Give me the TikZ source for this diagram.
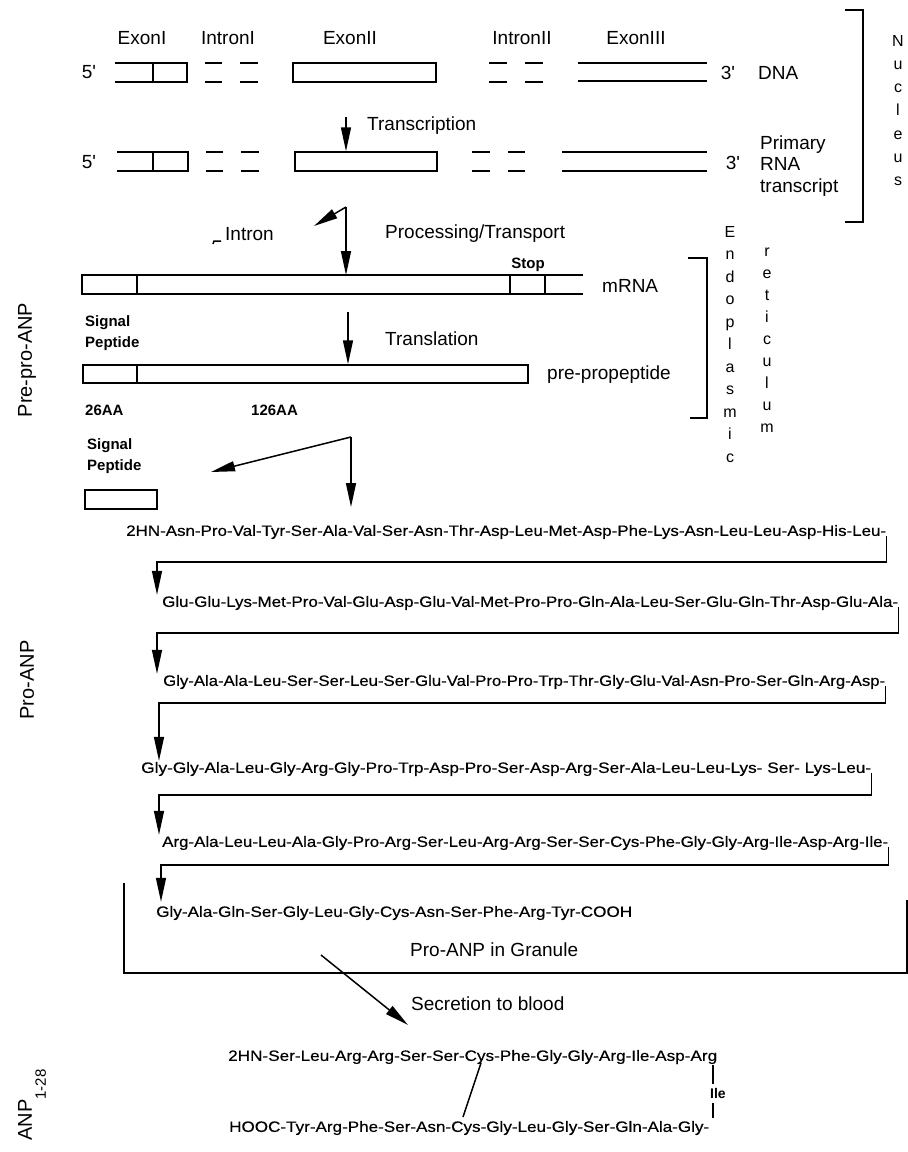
\documentclass[tikz,border=0pt]{standalone}
\usepackage{fontspec}
\setmainfont{Liberation Sans}
\newfontfamily\pepfont[FakeBold=0.4]{Liberation Sans}
\usetikzlibrary{arrows.meta,calc}
\newcommand\fitw[2]{\resizebox{#1pt}{\height}{#2}}
\newcommand\pr{\textquotesingle}
\begin{document}
\begin{tikzpicture}[x=1pt,y=-1pt,
  ln/.style={line width=1.5pt},
  arr/.style={line width=1.5pt,-{Triangle[length=24pt,width=10pt]}},
  lbl/.style={font=\fontsize{19}{21}\selectfont, inner sep=0pt},
  sml/.style={font=\bfseries\fontsize{15}{21}\selectfont, inner sep=0pt},
  pep/.style={font=\pepfont\fontsize{15}{17}\selectfont, inner sep=0pt, anchor=west},
  ltr/.style={font=\fontsize{16}{16}\selectfont, inner sep=0pt, anchor=base},
  bar/.style={draw, line width=1.5pt, inner sep=0pt}
]
\useasboundingbox (0,0) rectangle (908,1152);

% ---------------- Nucleus ----------------
\node[lbl] (lexI) at (142,38) {ExonI};
\node[lbl] (linI) at (228,38) {IntronI};
\node[lbl] (lexII) at (350,38) {ExonII};
\node[lbl] (linII) at (522,38) {IntronII};
\node[lbl] (lexIII) at (636,38) {ExonIII};

% DNA row
\node[lbl] (p5a) at (89,72) {5\pr};
\draw[ln] (115,63) -- (187,63) -- (187,82) -- (115,82);
\draw[ln] (153,63) -- (153,82);
\foreach \a/\b in {205/222,240/258,489/507,525/543}{
  \draw[ln] (\a,63) -- (\b,63); \draw[ln] (\a,82) -- (\b,82);}
\node[bar, minimum width=143pt, minimum height=19pt] (exA) at (364.5,72.5) {};
\draw[ln] (578,63) -- (707,63); \draw[ln] (578,81) -- (707,81);
\node[lbl] (p3a) at (728,73) {3\pr};
\node[lbl, anchor=west] (dna) at (758,73) {DNA};

% Primary RNA row
\node[lbl] (p5b) at (89,162) {5\pr};
\draw[ln] (117,152) -- (188,152) -- (188,171) -- (117,171);
\draw[ln] (153,152) -- (153,171);
\foreach \a/\b in {206/223,241/259,472/490,508/525}{
  \draw[ln] (\a,152) -- (\b,152); \draw[ln] (\a,171) -- (\b,171);}
\node[bar, minimum width=142pt, minimum height=19pt] (exB) at (366,161.5) {};
\draw[ln] (562,152) -- (707,152); \draw[ln] (562,171) -- (707,171);
\node[lbl] (p3b) at (733,163) {3\pr};
\node[lbl, anchor=west, align=left, font=\fontsize{19}{21.5}\selectfont] (prna) at (760,166) {Primary\\RNA\\transcript};

% Transcription
\coordinate (tA) at (346,117);
\draw[arr] (tA) -- (tA |- exB.north);
\node[lbl, anchor=west] (trs) at (367,126) {Transcription};

% Nucleus bracket
\draw[ln] (845,10) -- (863,10) -- (863,222) -- (845,222);
\foreach \ch [count=\i] in {N,u,c,l,e,u,s}
  \node[ltr] (nuc\i) at (898,{40+23.3*(\i-1)+6}) {\ch};

% ---------------- Processing ----------------
\coordinate (pA) at (346,207);
\coordinate (inTip) at (314,226);
\draw[arr] (pA) -- (inTip);
\draw[ln] (213,244) -- (214,241) -- (221,241);
\node[lbl, anchor=west] (intron) at (225,234) {Intron};
\node[lbl, anchor=west] (proc) at (385,234) {Processing/Transport};

% mRNA bar
\draw[ln] (583,275) -- (82,275) -- (82,294) -- (583,294);
\draw[ln] (137,275) -- (137,294);
\draw[ln] (510,275) -- (510,294);
\draw[ln] (545,275) -- (545,294);
\coordinate (mtop) at (346,275);
\draw[arr] (pA) -- (mtop);
\node[sml] (stop) at (528,265) {Stop};
\node[lbl, anchor=west] (mrna) at (602,286) {mRNA};

\node[sml, anchor=west, align=left] (sig1) at (85,333) {Signal\\Peptide};

% Translation
\node[bar, minimum width=445pt, minimum height=18pt] (pp) at (305.5,374) {};
\draw[ln] (137,365) -- (137,383);
\coordinate (tl) at (348,312);
\draw[arr] (tl) -- (tl |- pp.north);
\node[lbl, anchor=west] (transl) at (385,339) {Translation};
\node[lbl, anchor=west] (prepro) at (547,375) {pre-propeptide};
\node[sml, anchor=west] (aa26) at (85,410) {26AA};
\node[sml, anchor=west] (aa126) at (251,410) {126AA};

% ER bracket
\draw[ln] (688,258) -- (707,258) -- (707,418) -- (690,418);
\foreach \ch [count=\i] in {E,n,d,o,p,l,a,s,m,i,c}
  \node[ltr] (en\i) at (730,{231+22.5*(\i-1)+6}) {\ch};
\foreach \ch [count=\i] in {r,e,t,i,c,u,l,u,m}
  \node[ltr] (re\i) at (767,{250+22*(\i-1)+6}) {\ch};

\node[lbl, rotate=90, font=\fontsize{20}{22}\selectfont] (lprepro) at (27,360) {Pre-pro-ANP};

% ---------------- Signal peptide cleavage ----------------
\node[sml, anchor=west, align=left] (sig2) at (87,456) {Signal\\Peptide};
\coordinate (sA) at (351,437);
\coordinate (sTip) at (351,507);
\coordinate (sgTip) at (211,472);
\draw[arr] (sA) -- (sTip);
\draw[arr] (sA) -- (sgTip);
\node[bar, minimum width=72pt, minimum height=19pt] (sb) at (121,499.5) {};

% ---------------- Pro-ANP ----------------
\node[pep] (r1) at (126,532) {\fitw{760}{2HN-Asn-Pro-Val-Tyr-Ser-Ala-Val-Ser-Asn-Thr-Asp-Leu-Met-Asp-Phe-Lys-Asn-Leu-Leu-Asp-His-Leu-}};
\node[pep] (r2) at (162,603) {\fitw{736}{Glu-Glu-Lys-Met-Pro-Val-Glu-Asp-Glu-Val-Met-Pro-Pro-Gln-Ala-Leu-Ser-Glu-Gln-Thr-Asp-Glu-Ala-}};
\node[pep] (r3) at (163,682) {\fitw{722}{Gly-Ala-Ala-Leu-Ser-Ser-Leu-Ser-Glu-Val-Pro-Pro-Trp-Thr-Gly-Glu-Val-Asn-Pro-Ser-Gln-Arg-Asp-}};
\node[pep] (r4) at (141,769) {\fitw{730}{Gly-Gly-Ala-Leu-Gly-Arg-Gly-Pro-Trp-Asp-Pro-Ser-Asp-Arg-Ser-Ala-Leu-Leu-Lys- Ser- Lys-Leu-}};
\node[pep] (r5) at (162,843) {\fitw{726}{Arg-Ala-Leu-Leu-Ala-Gly-Pro-Arg-Ser-Leu-Arg-Arg-Ser-Ser-Cys-Phe-Gly-Gly-Arg-Ile-Asp-Arg-Ile-}};
\node[pep] (r6) at (156,913) {\fitw{476}{Gly-Ala-Gln-Ser-Gly-Leu-Gly-Cys-Asn-Ser-Phe-Arg-Tyr-COOH}};

\coordinate (c1) at (157,562);
\coordinate (c2) at (157,633);
\coordinate (c3) at (159,703);
\coordinate (c4) at (159,795);
\coordinate (c5) at (161,865);
\draw[arr, shorten >=1pt] ([yshift=-4pt]r1.east) |- (c1) -- (c1 |- r2.north);
\draw[arr, shorten >=1pt] ([yshift=-4pt]r2.east) |- (c2) -- (c2 |- r3.north);
\draw[arr, shorten >=1pt] ([yshift=-4pt]r3.east) |- (c3) -- (c3 |- r4.north);
\draw[arr, shorten >=1pt] ([yshift=-4pt]r4.east) |- (c4) -- (c4 |- r5.north);
\draw[arr, shorten >=4pt] ([yshift=-4pt]r5.east) |- (c5) -- (c5 |- r6.north);

\node[lbl, rotate=90, font=\fontsize{20}{22}\selectfont] (lpro) at (27,680) {Pro-ANP};

% Granule
\draw[ln] (124,883) -- (124,973) -- (907,973) -- (907,900);
\node[lbl, anchor=west] (gran) at (410,950) {Pro-ANP in Granule};

% Secretion
\coordinate (secA) at (321,955);
\coordinate (secB) at (408,1025);
\draw[arr] (secA) -- (secB);
\node[lbl, anchor=west] (secr) at (411,1004) {Secretion to blood};

% ---------------- ANP 1-28 ----------------
\node[pep] (a1) at (228,1057) {\fitw{489}{2HN-Ser-Leu-Arg-Arg-Ser-Ser-Cys-Phe-Gly-Gly-Arg-Ile-Asp-Arg}};
\node[pep] (a2) at (229,1128) {\fitw{480}{HOOC-Tyr-Arg-Phe-Ser-Asn-Cys-Gly-Leu-Gly-Ser-Gln-Ala-Gly-}};
\coordinate (ss1) at (481,1063);
\coordinate (ss2) at (463,1117);
\draw[ln] (ss1) -- (ss2);
\node[pep, font=\bfseries\fontsize{14}{14}\selectfont] (ile) at (710,1093) {Ile};
\draw[ln] (713,1065) -- (713,1084);
\draw[ln] (713,1103) -- (713,1118);

\node[lbl, rotate=90, font=\fontsize{20}{22}\selectfont] (lanp) at (32,1105) {ANP\raisebox{-14pt}{\fontsize{15}{15}\selectfont 1-28}};
\end{tikzpicture}
\end{document}
